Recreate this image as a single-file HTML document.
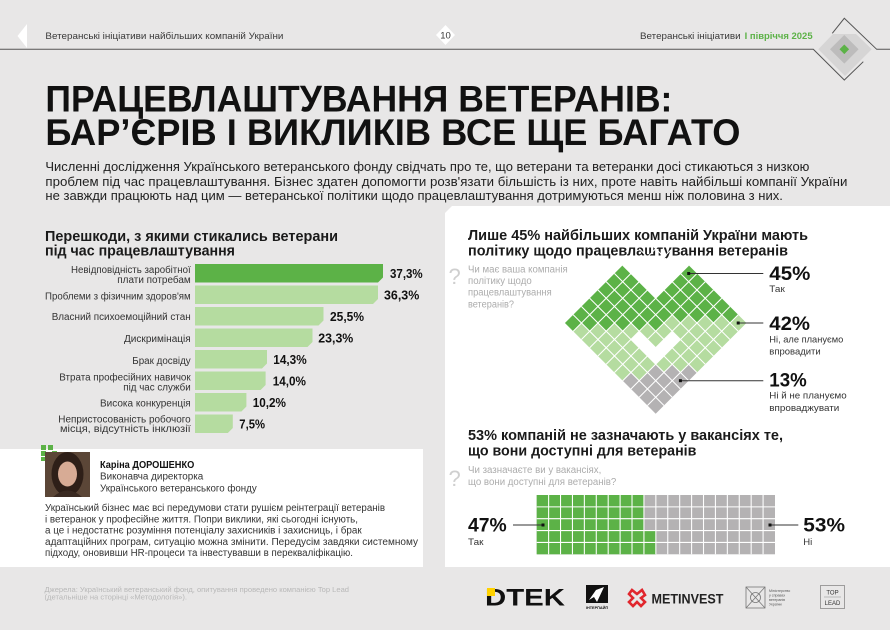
<!DOCTYPE html>
<html lang="uk">
<head>
<meta charset="utf-8">
<style>
html,body{margin:0;padding:0;background:#e8e7e7;}
svg{display:block;}
text{font-family:"Liberation Sans","Noto Sans CJK SC",sans-serif;}
</style>
</head>
<body>
<svg width="890" height="630" viewBox="0 0 890 630" xmlns="http://www.w3.org/2000/svg">
<rect x="0" y="0" width="890" height="630" fill="#e8e7e7"/>

<!-- Header -->
<path d="M0,49.3 L813.3,49.3 L844.3,80 L863.3,61.7" fill="none" stroke="#555" stroke-width="1"/>
<polygon points="818.3,49.3 833,34 856,34 871.7,49.3 845,76" fill="#d6d5d5"/>
<polygon points="830,49.3 844.3,35 858.6,49.3 844.3,63.6" fill="#bdbcbc"/>
<polygon points="839.5,49.3 844.3,44.5 849.1,49.3 844.3,54.1" fill="#5cb247"/>
<path d="M832.3,33.3 L844.3,18.3 L876.7,49.3 L890,49.3" fill="none" stroke="#555" stroke-width="1"/>

<polygon points="27,24 17.5,36 27,48" fill="#ffffff"/>
<text x="45.4" y="39" font-size="9.5" fill="#3a3a3a" textLength="238" lengthAdjust="spacingAndGlyphs">Ветеранські ініціативи найбільших компаній України</text>
<polygon points="445.5,25 455,35 445.5,45 436,35" fill="#ffffff"/>
<text x="445.5" y="38.5" font-size="9.5" fill="#3a3a3a" text-anchor="middle">10</text>
<text x="640" y="39" font-size="9.5" fill="#3a3a3a" textLength="100.6" lengthAdjust="spacingAndGlyphs">Ветеранські ініціативи</text>
<text x="744.6" y="39" font-size="9.5" font-weight="bold" fill="#5cb247" textLength="68" lengthAdjust="spacingAndGlyphs">І півріччя 2025</text>

<!-- Title -->
<text x="45.4" y="111.5" font-size="37" font-weight="bold" fill="#111" textLength="627" lengthAdjust="spacingAndGlyphs">ПРАЦЕВЛАШТУВАННЯ ВЕТЕРАНІВ:</text>
<text x="45.4" y="145" font-size="37" font-weight="bold" fill="#111" textLength="695" lengthAdjust="spacingAndGlyphs">БАР’ЄРІВ І ВИКЛИКІВ ВСЕ ЩЕ БАГАТО</text>

<!-- Intro -->
<text x="45.4" y="171.2" font-size="12.5" fill="#222" textLength="764" lengthAdjust="spacingAndGlyphs">Численні дослідження Українського ветеранського фонду свідчать про те, що ветерани та ветеранки досі стикаються з низкою</text>
<text x="45.4" y="186.2" font-size="12.5" fill="#222" textLength="802" lengthAdjust="spacingAndGlyphs">проблем під час працевлаштування. Бізнес здатен допомогти розв'язати більшість із них, проте навіть найбільші компанії України</text>
<text x="45.4" y="200" font-size="12.5" fill="#222" textLength="737.5" lengthAdjust="spacingAndGlyphs">не завжди працюють над цим — ветеранської політики щодо працевлаштування дотримуються менш ніж половина з них.</text>

<!-- Left bar chart -->
<text x="45" y="241" font-size="14.5" font-weight="bold" fill="#1a1a1a" textLength="293" lengthAdjust="spacingAndGlyphs">Перешкоди, з якими стикались ветерани</text>
<text x="45" y="255.5" font-size="14.5" font-weight="bold" fill="#1a1a1a" textLength="190" lengthAdjust="spacingAndGlyphs">під час працевлаштування</text>

<polygon points="195,264 383,264 383,277.5 378,282.5 195,282.5" fill="#5cb247"/>
<polygon points="195,285.5 378,285.5 378,299 373,304 195,304" fill="#b5dca0"/>
<polygon points="195,307 323.5,307 323.5,320.5 318.5,325.5 195,325.5" fill="#b5dca0"/>
<polygon points="195,328.5 312.5,328.5 312.5,342 307.5,347 195,347" fill="#b5dca0"/>
<polygon points="195,350 267,350 267,363.5 262,368.5 195,368.5" fill="#b5dca0"/>
<polygon points="195,371.5 265.6,371.5 265.6,385 260.6,390 195,390" fill="#b5dca0"/>
<polygon points="195,393 246.4,393 246.4,406.5 241.4,411.5 195,411.5" fill="#b5dca0"/>
<polygon points="195,414.5 232.8,414.5 232.8,428 227.8,433 195,433" fill="#b5dca0"/>

<g font-size="10" fill="#333" text-anchor="end">
<text x="190.7" y="272.9" textLength="119.7" lengthAdjust="spacingAndGlyphs">Невідповідність заробітної</text>
<text x="190.7" y="282.9" textLength="73.4" lengthAdjust="spacingAndGlyphs">плати потребам</text>
<text x="190.7" y="299.4" textLength="145.7" lengthAdjust="spacingAndGlyphs">Проблеми з фізичним здоров'ям</text>
<text x="190.7" y="320.2" textLength="139" lengthAdjust="spacingAndGlyphs">Власний психоемоційний стан</text>
<text x="190.7" y="342" textLength="66.7" lengthAdjust="spacingAndGlyphs">Дискримінація</text>
<text x="190.7" y="363.8" textLength="58.4" lengthAdjust="spacingAndGlyphs">Брак досвіду</text>
<text x="190.7" y="380.3" textLength="131.4" lengthAdjust="spacingAndGlyphs">Втрата професійних навичок</text>
<text x="190.7" y="390.3" textLength="67.4" lengthAdjust="spacingAndGlyphs">під час служби</text>
<text x="190.7" y="406.3" textLength="90.7" lengthAdjust="spacingAndGlyphs">Висока конкуренція</text>
<text x="190.7" y="422.6" textLength="132.4" lengthAdjust="spacingAndGlyphs">Непристосованість робочого</text>
<text x="190.7" y="432" textLength="130.7" lengthAdjust="spacingAndGlyphs">місця, відсутність інклюзії</text>
</g>
<g font-size="13" font-weight="bold" fill="#111">
<text x="390" y="278" textLength="32.7" lengthAdjust="spacingAndGlyphs">37,3%</text>
<text x="384" y="299.5" textLength="35.3" lengthAdjust="spacingAndGlyphs">36,3%</text>
<text x="330" y="321" textLength="34" lengthAdjust="spacingAndGlyphs">25,5%</text>
<text x="318.3" y="342.5" textLength="35" lengthAdjust="spacingAndGlyphs">23,3%</text>
<text x="273.3" y="364" textLength="33.4" lengthAdjust="spacingAndGlyphs">14,3%</text>
<text x="272.7" y="385.5" textLength="33.3" lengthAdjust="spacingAndGlyphs">14,0%</text>
<text x="252.7" y="407" textLength="33.3" lengthAdjust="spacingAndGlyphs">10,2%</text>
<text x="239.3" y="428.5" textLength="25.7" lengthAdjust="spacingAndGlyphs">7,5%</text>
</g>

<!-- Quote box -->
<rect x="0" y="449" width="423" height="118" fill="#ffffff"/>
<g fill="#5cb247">
<rect x="41" y="445" width="5" height="5"/>
<rect x="48" y="445" width="5" height="5"/>
<rect x="41" y="451" width="5" height="5"/>
<rect x="47" y="452" width="5" height="5"/>
<rect x="52" y="451" width="5" height="5"/>
<rect x="41" y="457" width="4" height="4"/>
</g>
<rect x="45" y="452" width="45" height="45" fill="#5b4637"/>
<ellipse cx="67.5" cy="474" rx="16" ry="22" fill="#2e1f18"/>
<ellipse cx="67.5" cy="474" rx="9.5" ry="12.5" fill="#d7ab95"/>
<path d="M53,497 Q67.5,484 82,497 Z" fill="#3a2a22"/>
<text x="100" y="467.9" font-size="10" font-weight="bold" fill="#111" textLength="94.3" lengthAdjust="spacingAndGlyphs">Каріна ДОРОШЕНКО</text>
<text x="100" y="479.6" font-size="10" fill="#333" textLength="103.3" lengthAdjust="spacingAndGlyphs">Виконавча директорка</text>
<text x="100" y="491.3" font-size="10" fill="#333" textLength="156.7" lengthAdjust="spacingAndGlyphs">Українського ветеранського фонду</text>
<g font-size="10" fill="#333">
<text x="45" y="511.2" textLength="340" lengthAdjust="spacingAndGlyphs">Український бізнес має всі передумови стати рушієм реінтеграції ветеранів</text>
<text x="45" y="522.4" textLength="313" lengthAdjust="spacingAndGlyphs">і ветеранок у професійне життя. Попри виклики, які сьогодні існують,</text>
<text x="45" y="533.6" textLength="316.7" lengthAdjust="spacingAndGlyphs">а це і недостатнє розуміння потенціалу захисників і захисниць, і брак</text>
<text x="45" y="544.8" textLength="373" lengthAdjust="spacingAndGlyphs">адаптаційних програм, ситуацію можна змінити. Передусім завдяки системному</text>
<text x="45" y="556" textLength="308" lengthAdjust="spacingAndGlyphs">підходу, оновивши HR-процеси та інвестувавши в перекваліфікацію.</text>
</g>

<!-- Right panel -->
<polygon points="452,206 890,206 890,567 445,567 445,213" fill="#ffffff"/>
<text x="468" y="240" font-size="14.5" font-weight="bold" fill="#1a1a1a" textLength="340" lengthAdjust="spacingAndGlyphs">Лише 45% найбільших компаній України мають</text>
<text x="468" y="255.5" font-size="14.5" font-weight="bold" fill="#1a1a1a" textLength="320" lengthAdjust="spacingAndGlyphs">політику щодо працевлаштування ветеранів</text>

<text x="448.5" y="284" font-size="22" fill="#cfcfcf">?</text>
<g font-size="10" fill="#acacac">
<text x="468" y="272.5" textLength="99.7" lengthAdjust="spacingAndGlyphs">Чи має ваша компанія</text>
<text x="468" y="284.2" textLength="63.7" lengthAdjust="spacingAndGlyphs">політику щодо</text>
<text x="468" y="295.6" textLength="83.7" lengthAdjust="spacingAndGlyphs">працевлаштування</text>
<text x="468" y="307.4" textLength="46" lengthAdjust="spacingAndGlyphs">ветеранів?</text>
</g>

<!-- Heart (rotated grid) -->
<g transform="matrix(8.25,8.25,-8.25,8.25,655.7,232.2)">
  <g fill="#5cb247">
    <rect x="4" y="0" width="6" height="1"/>
    <rect x="4" y="1" width="5" height="1"/>
    <rect x="4" y="2" width="4" height="1"/>
    <rect x="4" y="3" width="3" height="1"/>
    <rect x="0" y="4" width="6" height="1"/>
    <rect x="0" y="5" width="6" height="1"/>
    <rect x="0" y="6" width="5" height="1"/>
    <rect x="0" y="7" width="4" height="1"/>
    <rect x="0" y="8" width="3" height="1"/>
    <rect x="0" y="9" width="2" height="1"/>
    <rect x="0" y="10" width="1" height="1"/>
  </g>
  <g fill="#b5dca0">
    <rect x="10" y="0" width="1" height="1"/>
    <rect x="9" y="1" width="2" height="1"/>
    <rect x="8" y="2" width="3" height="1"/>
    <rect x="7" y="3" width="4" height="1"/>
    <rect x="6" y="4" width="5" height="1"/>
    <rect x="6" y="5" width="1" height="1"/>
    <rect x="8" y="5" width="3" height="1"/>
    <rect x="5" y="6" width="2" height="1"/>
    <rect x="8" y="6" width="2" height="1"/>
    <rect x="4" y="7" width="1" height="1"/>
    <rect x="8" y="7" width="1" height="1"/>
    <rect x="3" y="8" width="5" height="1"/>
    <rect x="2" y="9" width="6" height="1"/>
    <rect x="1" y="10" width="6" height="1"/>
  </g>
  <g fill="#b4b2b3">
    <rect x="10" y="6" width="1" height="1"/>
    <rect x="9" y="7" width="2" height="1"/>
    <rect x="8" y="8" width="3" height="1"/>
    <rect x="8" y="9" width="3" height="1"/>
    <rect x="7" y="10" width="4" height="1"/>
  </g>
  <g stroke="#ffffff" stroke-width="0.09" fill="none">
    <path d="M1,0V11M2,0V11M3,0V11M4,0V11M5,0V11M6,0V11M7,0V11M8,0V11M9,0V11M10,0V11"/>
    <path d="M0,1H11M0,2H11M0,3H11M0,4H11M0,5H11M0,6H11M0,7H11M0,8H11M0,9H11M0,10H11"/>
  </g>
</g>

<!-- Heart pointers -->
<g stroke="#333" stroke-width="1">
<line x1="688.7" y1="273.5" x2="763.3" y2="273.5"/>
<line x1="738.2" y1="323" x2="763.3" y2="323"/>
<line x1="680.4" y1="380.7" x2="763.3" y2="380.7"/>
</g>
<g fill="#111">
<rect x="687.2" y="272" width="3" height="3"/>
<rect x="736.7" y="321.5" width="3" height="3"/>
<rect x="678.9" y="379.2" width="3" height="3"/>
</g>
<g font-size="19" font-weight="bold" fill="#111">
<text x="769.3" y="280" textLength="41" lengthAdjust="spacingAndGlyphs">45%</text>
<text x="769.3" y="330" textLength="40.7" lengthAdjust="spacingAndGlyphs">42%</text>
<text x="769.3" y="386.7" textLength="37.4" lengthAdjust="spacingAndGlyphs">13%</text>
</g>
<g font-size="9.5" fill="#333">
<text x="769.3" y="292" textLength="15.5" lengthAdjust="spacingAndGlyphs">Так</text>
<text x="769.3" y="342.5" textLength="74" lengthAdjust="spacingAndGlyphs">Ні, але плануємо</text>
<text x="769.3" y="354.5" textLength="51.4" lengthAdjust="spacingAndGlyphs">впровадити</text>
<text x="769.3" y="398.5" textLength="77.4" lengthAdjust="spacingAndGlyphs">Ні й не плануємо</text>
<text x="769.3" y="411" textLength="70" lengthAdjust="spacingAndGlyphs">впроваджувати</text>
</g>

<!-- Second chart -->
<text x="468" y="440" font-size="14.5" font-weight="bold" fill="#1a1a1a" textLength="315" lengthAdjust="spacingAndGlyphs">53% компаній не зазначають у вакансіях те,</text>
<text x="468" y="455.7" font-size="14.5" font-weight="bold" fill="#1a1a1a" textLength="228.4" lengthAdjust="spacingAndGlyphs">що вони доступні для ветеранів</text>
<text x="448.5" y="486" font-size="22" fill="#cfcfcf">?</text>
<g font-size="10" fill="#acacac">
<text x="468" y="472.8" textLength="133.3" lengthAdjust="spacingAndGlyphs">Чи зазначаєте ви у вакансіях,</text>
<text x="468" y="485" textLength="148.3" lengthAdjust="spacingAndGlyphs">що вони доступні для ветеранів?</text>
</g>

<g transform="translate(536.7,495) scale(11.915,11.86)">
  <rect x="0" y="0" width="20" height="5" fill="#b4b2b3"/>
  <rect x="0" y="0" width="9" height="5" fill="#5cb247"/>
  <rect x="9" y="3" width="1" height="2" fill="#5cb247"/>
  <g stroke="#ffffff" stroke-width="0.09" fill="none">
    <path d="M1,0V5M2,0V5M3,0V5M4,0V5M5,0V5M6,0V5M7,0V5M8,0V5M9,0V5M10,0V5M11,0V5M12,0V5M13,0V5M14,0V5M15,0V5M16,0V5M17,0V5M18,0V5M19,0V5"/>
    <path d="M0,1H20M0,2H20M0,3H20M0,4H20"/>
  </g>
</g>
<g stroke="#333" stroke-width="1">
<line x1="513" y1="525" x2="543" y2="525"/>
<line x1="770" y1="525" x2="798.3" y2="525"/>
</g>
<rect x="541.5" y="523.5" width="3" height="3" fill="#111"/>
<rect x="768.5" y="523.5" width="3" height="3" fill="#111"/>
<g font-size="19" font-weight="bold" fill="#111">
<text x="468" y="531.7" textLength="38.7" lengthAdjust="spacingAndGlyphs">47%</text>
<text x="803.3" y="531.7" textLength="41.7" lengthAdjust="spacingAndGlyphs">53%</text>
</g>
<g font-size="9.5" fill="#333">
<text x="468" y="545" textLength="15.5" lengthAdjust="spacingAndGlyphs">Так</text>
<text x="803.3" y="545" textLength="9" lengthAdjust="spacingAndGlyphs">Ні</text>
</g>

<!-- Footer -->
<g font-size="7.5" fill="#b8b8b8">
<text x="44.5" y="591.8" textLength="304.5" lengthAdjust="spacingAndGlyphs">Джерела: Український ветеранський фонд, опитування проведено компанією Top Lead</text>
<text x="44.5" y="599.6" textLength="142.5" lengthAdjust="spacingAndGlyphs">(детальніше на сторінці «Методологія»).</text>
</g>

<!-- DTEK -->
<text x="485" y="605.7" font-size="24" font-weight="bold" fill="#111" textLength="80" lengthAdjust="spacingAndGlyphs">DTEK</text>
<rect x="487" y="588" width="8" height="8" fill="#ffd200"/>

<!-- Interpipe -->
<rect x="586" y="585" width="22" height="18" fill="#111"/>
<polygon points="604,587 597,602 594,597 589,600 596,590" fill="#ffffff"/>
<text x="597" y="609" font-size="3.8" font-weight="bold" fill="#111" text-anchor="middle">ІНТЕРПАЙП</text>

<!-- Metinvest -->
<g fill="none" stroke="#e1262d" stroke-width="2.6">
<path d="M632,590 L637,594 L642,590 L645,595 L641,598 L645,602 L641,606 L637,602 L633,606 L629,602 L633,598 L629,594 Z"/>
</g>
<text x="651.5" y="603.5" font-size="14" font-weight="bold" fill="#222" textLength="72" lengthAdjust="spacingAndGlyphs">METINVEST</text>

<!-- Ministry -->
<g fill="none" stroke="#777" stroke-width="0.8">
<rect x="746" y="587" width="19" height="21"/>
<line x1="746" y1="587" x2="765" y2="608"/>
<line x1="765" y1="587" x2="746" y2="608"/>
<circle cx="755.5" cy="597.5" r="5"/>
</g>
<g font-size="3.6" fill="#555">
<text x="769" y="592">Міністерство</text>
<text x="769" y="596.5">у справах</text>
<text x="769" y="601">ветеранів</text>
<text x="769" y="605.5">України</text>
</g>

<!-- TOP LEAD -->
<rect x="820.5" y="585.5" width="24" height="23" fill="none" stroke="#8a8a8a" stroke-width="0.8"/>
<text x="832.5" y="594.5" font-size="6" fill="#333" text-anchor="middle">TOP</text>
<line x1="824" y1="597" x2="841" y2="597" stroke="#8a8a8a" stroke-width="0.6"/>
<text x="832.5" y="605" font-size="6" fill="#333" text-anchor="middle">LEAD</text>
</svg>
</body>
</html>
